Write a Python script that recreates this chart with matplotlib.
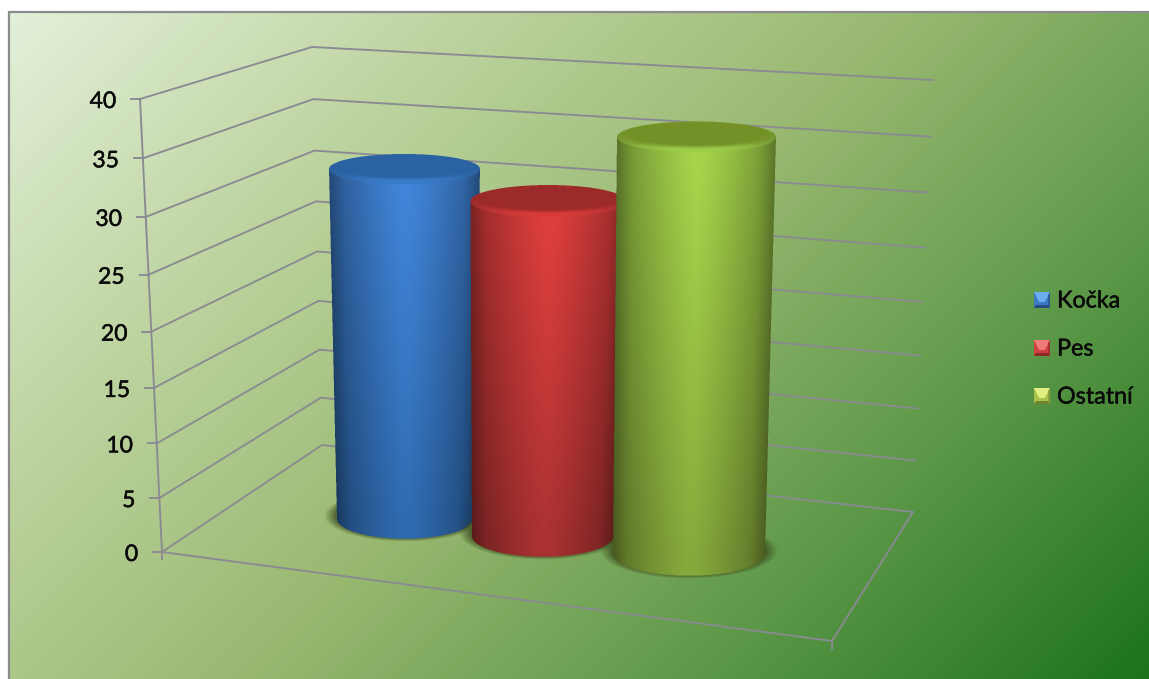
import numpy as np
import matplotlib
matplotlib.use("Agg")
import matplotlib.pyplot as plt
import matplotlib.patheffects as pe
from matplotlib.patches import Polygon, Rectangle

# ---- data ----
categories = ["Kočka", "Pes", "Ostatní"]
values = [32.6, 30.8, 37.4]
axis_ticks = [0, 5, 10, 15, 20, 25, 30, 35, 40]
axis_max = 40

# ---- style / geometry ----
W, H = 1149, 679
FRONT_L0, BACK_L0, BACK_R0, FRONT_R0 = (162, 552), (322, 445), (913, 512), (832, 641)
FRONT_L1, BACK_L1, BACK_R1, FRONT_R1 = (140, 99), (312, 47), (933, 80), (847, 160)
depth = 0.5
u_pos = [0.259, 0.478, 0.709]
base_cx = [405, 543, 689]
top_cx = [404.5, 548, 696.5]
base_rx = [68, 71, 76]
top_rx = [75.5, 77.5, 79.5]
base_ry = [20, 21, 22]
top_ry = [15, 16, 15.5]
center_top = [(66, 135, 220), (226, 64, 62), (168, 216, 76)]
center_bot = [(48, 108, 178), (172, 50, 50), (136, 170, 60)]
cap_col = [(42, 98, 162), (155, 42, 40), (116, 146, 40)]
rim_col = [(58, 125, 205), (215, 60, 58), (158, 205, 72)]
grid_col = "#8a8a92"
swatch_y = [300, 348, 396]
swatch_pal = [("#6aaef0", "#3d78c4", "#2a5a9a", "#224d85"),
              ("#f07a78", "#cf4040", "#a83030", "#8c2828"),
              ("#dff080", "#a8c24a", "#8aa03c", "#6f8230")]

plt.rcParams["font.family"] = ["Lato", "DejaVu Sans"]
bold = [pe.withStroke(linewidth=0.35, foreground="#0a0a0a")]


def lerp(a, b, t):
    return (a[0] + (b[0] - a[0]) * t, a[1] + (b[1] - a[1]) * t)


def proj(u, w, v):
    v2 = v - 0.055 * v * (1 - v)
    fr = lerp(FRONT_L0, FRONT_R0, u)
    bk = lerp(BACK_L0, BACK_R0, u)
    fr1 = lerp(FRONT_L1, FRONT_R1, u)
    bk1 = lerp(BACK_L1, BACK_R1, u)
    return lerp(lerp(fr, bk, w), lerp(fr1, bk1, w), v2)


fig = plt.figure(figsize=(W / 100, H / 100), dpi=100)
ax = fig.add_axes([0, 0, 1, 1])
ax.set_axis_off()


def show(arr, x0, x1, y0, y1, z):
    ax.imshow(arr, extent=(x0, x1, y1, y0), origin="upper", aspect="auto",
              interpolation="nearest", zorder=z)


def grid(x0, x1, y0, y1, ss=3):
    xs = (np.arange((x1 - x0) * ss) + .5) / ss + x0
    ys = (np.arange((y1 - y0) * ss) + .5) / ss + y0
    return np.meshgrid(xs, ys)


def down(a, ss=3):
    h, w = a.shape[:2]
    return a.reshape(h // ss, ss, w // ss, ss, -1).mean(axis=(1, 3))


# ---- background ----
yy, xx = np.mgrid[0:H, 0:W]
t = np.clip(((xx - 9) + (yy - 13)) / (1140.0 + 666.0), 0, 1)
stops = np.array([0, .25, .5, .75, 1.0])
rgb = [(227, 240, 218), (190, 212, 160), (152, 184, 112), (92, 152, 72), (28, 114, 28)]
bg = np.dstack([np.interp(t, stops, [c[i] for c in rgb]) for i in range(3)]) / 255
show(bg, 0, W, 0, H, 0)
ax.add_patch(Rectangle((0, 0), W, 11, fc="white", ec="none", zorder=1))
ax.add_patch(Rectangle((0, 0), 8, H, fc="white", ec="none", zorder=1))
ax.plot([8.7, 8.7, W], [H, 12, 12], color="#8c8c8c", lw=1.6, zorder=2, solid_joinstyle="miter")

# ---- walls and floor ----
lw = 1.35
for tv in axis_ticks:
    v = tv / axis_max
    a, b, c = proj(0, 0, v), proj(0, 1, v), proj(1, 1, v)
    ax.plot([a[0] - 9, a[0]], [a[1], a[1]], color=grid_col, lw=lw, zorder=3)
    ax.plot([a[0], b[0], c[0]], [a[1], b[1], c[1]], color=grid_col, lw=lw, zorder=3)
    ax.text(a[0] - 24, a[1] + 9, str(tv), ha="right", va="baseline", fontsize=16.5,
            color="#0a0a0a", zorder=6, path_effects=bold)
a0, a1 = proj(0, 0, 0), proj(0, 0, 1)
ax.plot([a0[0], a1[0]], [a0[1], a1[1]], color=grid_col, lw=lw, zorder=3)
fl, fr, br = proj(0, 0, 0), proj(1, 0, 0), proj(1, 1, 0)
ax.plot([fl[0], fr[0], br[0]], [fl[1], fr[1], br[1]], color=grid_col, lw=lw, zorder=3)
ax.plot([fl[0], fl[0]], [fl[1], fl[1] + 7], color=grid_col, lw=lw, zorder=3)
ax.plot([fr[0], fr[0]], [fr[1], fr[1] + 8], color=grid_col, lw=lw, zorder=3)


# ---- cylinders ----
def cylinder(i, val, z):
    yb = proj(u_pos[i], depth, 0)[1]
    yt = proj(u_pos[i], depth, val / axis_max)[1]
    cxb, cxt = base_cx[i], top_cx[i]
    rb, rt = base_rx[i], top_rx[i]
    qb, qt = base_ry[i], top_ry[i]
    # shadow
    sx0, sx1 = int(cxb - rb - 22), int(cxb + rb + 22)
    sy0, sy1 = int(yb - qb - 12), int(yb + qb + 10)
    X, Y = grid(sx0, sx1, sy0, sy1, 1)
    r = np.sqrt(((X - cxb) / (rb + 13)) ** 2 + ((Y - (yb - 3)) / (qb + 6)) ** 2)
    al = np.clip((1.0 - r) / 0.14, 0, 1) * 0.72
    sh = np.dstack([np.full_like(X, .22), np.full_like(X, .26), np.full_like(X, .10), al])
    show(sh, sx0, sx1, sy0, sy1, z)
    # body
    x0, x1 = int(min(cxb - rb, cxt - rt)) - 2, int(max(cxb + rb, cxt + rt)) + 3
    y0, y1 = int(yt - qt) - 2, int(yb + qb) + 3
    X, Y = grid(x0, x1, y0, y1)
    f = np.clip((Y - yt) / (yb - yt), 0, 1)
    cx = cxt + (cxb - cxt) * f
    rx = rt + (rb - rt) * f
    s = (X - cx) / rx
    side = (np.abs(s) <= 1) & (Y >= yt) & (Y <= yb)
    lower = ((X - cxb) / rb) ** 2 + ((Y - yb) / qb) ** 2 <= 1
    upper = ((X - cxt) / rt) ** 2 + ((Y - yt) / qt) ** 2 <= 1
    mask = side | lower | upper
    ct, cb = np.array(center_top[i]), np.array(center_bot[i])
    col = ct[None, None, :] * (1 - f[..., None]) + cb[None, None, :] * f[..., None]
    d = 1 - 0.36 * np.abs((s - 0.02)) ** 1.3 - 0.10 * np.clip(np.abs(s) - .8, 0, 1) / .2
    col = col * d[..., None]
    # cap
    ry2 = qt * .8
    rx2 = rt * .975
    rc = np.sqrt(((X - cxt) / rx2) ** 2 + ((Y - (yt - qt * .2)) / ry2) ** 2)
    m = np.clip((rc - .92) / .28, 0, 1)[..., None]
    rim = np.array(rim_col[i])[None, None, :] * (1 - .25 * np.abs(s[..., None]) ** 2)
    capc = np.array(cap_col[i])[None, None, :] * (1 - m) + rim * m
    col = np.where(upper[..., None], capc, col)
    rgba = np.dstack([col / 255, mask.astype(float)])
    a = down(rgba[..., 3:4])
    c = down(rgba[..., :3] * rgba[..., 3:4]) / np.maximum(a, 1e-6)
    show(np.clip(np.dstack([c, a]), 0, 1), x0, x1, y0, y1, z + .1)


for i, val in enumerate(values):
    cylinder(i, val, 4 + i * .2)

# ---- legend ----
for name, yc, (tp, lf, rt_, bt) in zip(categories, swatch_y, swatch_pal):
    x0, x1, y0, y1 = 1034, 1050, yc - 8, yc + 8
    mx0, mx1, my0, my1 = x0 + 5, x1 - 5, y0 + 10, y1 - 3
    ax.add_patch(Rectangle((x0, y0), 16, 16, fc=lf, ec="none", zorder=6))
    ax.add_patch(Polygon([(x0, y0), (x1, y0), (mx1, my0), (mx0, my0)], fc=tp, ec="none", zorder=6.1))
    ax.add_patch(Polygon([(x0, y1), (x1, y1), (x1 - 2, my1), (x0 + 2, my1)], fc=bt, ec="none", zorder=6.1))
    ax.add_patch(Polygon([(x1, y0), (x1, y1), (x1 - 2, my1), (x1 - 2, y0 + 3)], fc=rt_, ec="none", zorder=6.1))
    ax.text(1057, yc + 7.5, name, ha="left", va="baseline", fontsize=16.8, color="#0a0a0a",
            zorder=6, path_effects=bold)

ax.set_xlim(0, W)
ax.set_ylim(H, 0)
fig.savefig("out.png", dpi=100)
